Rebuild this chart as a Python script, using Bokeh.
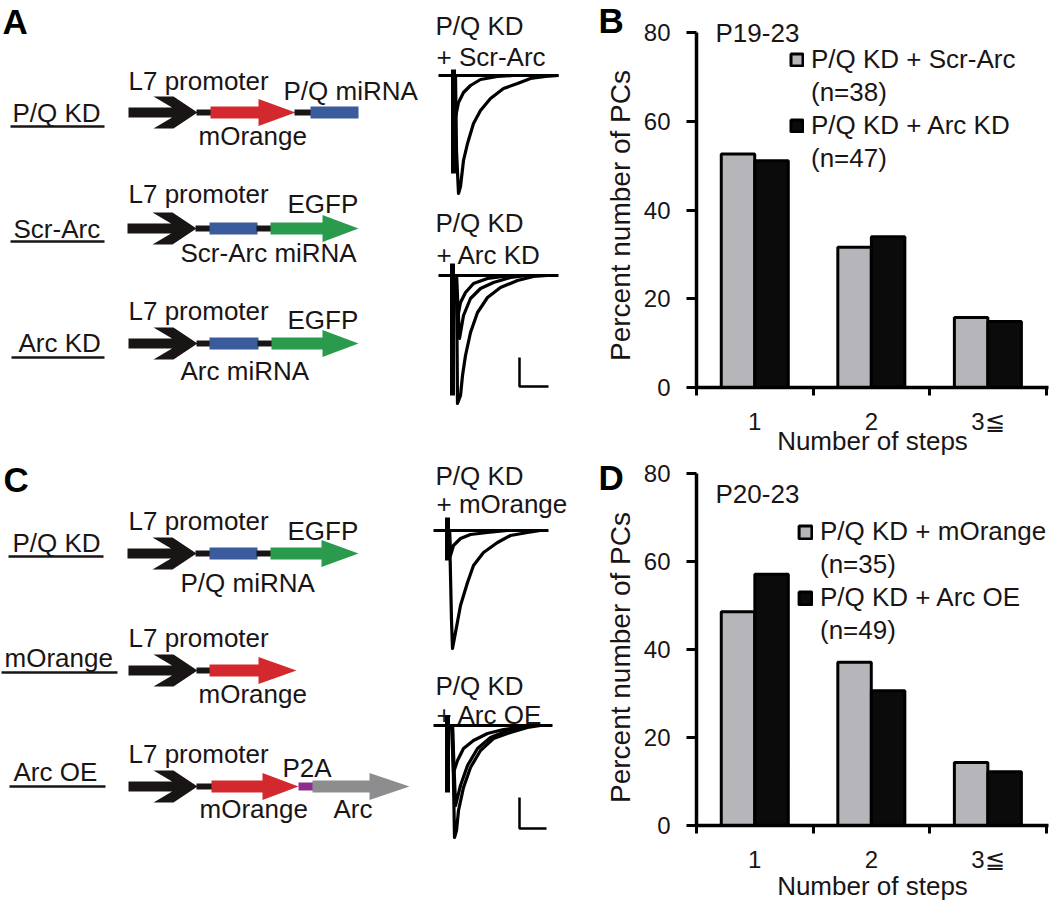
import math
from bokeh.plotting import figure
from bokeh.layouts import row, column
from bokeh.models import Range1d, FixedTicker, Label, Legend, LegendItem, Title
from bokeh.core.properties import value
from bokeh.embed import file_html
from bokeh.resources import INLINE

FONT = "Liberation Sans"
INK = "#1a1515"

# ---------------- bar chart data ----------------
steps = ["1", "2", "3\u2266"]
b_scr_arc = [52.6, 31.6, 15.8]      # P/Q KD + Scr-Arc (n=38)
b_arc_kd = [51.1, 34.0, 14.9]       # P/Q KD + Arc KD (n=47)
d_morange = [48.6, 37.1, 14.3]      # P/Q KD + mOrange (n=35)
d_arc_oe = [57.1, 30.6, 12.2]       # P/Q KD + Arc OE (n=49)
b_labels = ["P/Q KD + Scr-Arc", "(n=38)", "P/Q KD + Arc KD", "(n=47)"]
d_labels = ["P/Q KD + mOrange", "(n=35)", "P/Q KD + Arc OE", "(n=49)"]
y_ticks = [0, 20, 40, 60, 80]
y_title = "Percent number of PCs"
x_title = "Number of steps"

# ---------------- EPSC traces (canvas px) ----------------
a1_base_x = [438, 558]; a1_base_y = [75, 75]
a1_art_x = [453, 453]; a1_art_y = [69, 173]
a1_mid_x = [454, 455, 458, 463, 470, 480, 497, 513, 525]
a1_mid_y = [75, 117, 102, 92, 85, 79, 76, 75, 75]
a1_big_x = [455, 456, 458, 460, 463, 467, 473, 480, 490, 503, 517, 530, 545, 558]
a1_big_y = [75, 150, 193, 186, 160, 143, 123, 110, 98, 88, 83, 78, 76, 75]

a2_base_x = [438, 558]; a2_base_y = [275, 275]
a2_art_x = [452, 452]; a2_art_y = [263, 395]
a2_in_x = [455, 457, 460, 465, 473, 487, 503, 517]
a2_in_y = [275, 318, 302, 292, 283, 278, 276, 275]
a2_mid_x = [456, 459, 463, 470, 480, 493, 510, 527]
a2_mid_y = [275, 338, 315, 298, 288, 282, 277, 275]
a2_big_x = [456, 457, 460, 462, 465, 470, 477, 487, 500, 517, 533, 547]
a2_big_y = [275, 403, 395, 375, 355, 332, 312, 297, 287, 280, 276, 275]

c1_base_x = [433, 548]; c1_base_y = [530, 530]
c1_art_x = [447, 447]; c1_art_y = [517, 560]
c1_sm_x = [449, 450, 453, 460, 470, 487, 507]
c1_sm_y = [530, 555, 545, 538, 534, 532, 530]
c1_big_x = [449, 451, 452, 455, 460, 467, 473, 483, 497, 510, 527, 540]
c1_big_y = [530, 620, 648, 632, 605, 582, 565, 552, 542, 535, 532, 530]

c2_base_x = [433, 552]; c2_base_y = [725, 725]
c2_art_x = [447, 447]; c2_art_y = [715, 792]
c2_in_x = [451, 453, 457, 463, 473, 487, 503, 520, 530]
c2_in_y = [725, 772, 760, 748, 740, 733, 729, 727, 725]
c2_mid_x = [452, 455, 460, 467, 477, 490, 507, 525]
c2_mid_y = [725, 805, 785, 765, 748, 737, 730, 726]
c2_big_x = [452, 454, 456, 458, 463, 470, 480, 493, 510, 527, 540]
c2_big_y = [725, 837, 830, 810, 787, 767, 750, 738, 732, 727, 725]

# ---------------- left canvas: constructs + traces + panel letters ----------------
LW, TOTAL_H = 640, 903
L = figure(width=LW, height=TOTAL_H, x_range=Range1d(0, LW), y_range=Range1d(TOTAL_H, 0),
           x_axis_location=None, y_axis_location=None, min_border=0, title=None,
           toolbar_location=None, output_backend="svg", outline_line_color=None)
L.grid.visible = False

RED = "#d3282e"; BLUE = "#3a5b9c"; GREEN = "#2a9a4c"; PURPLE = "#8e2d8c"; GREY = "#8d8d90"

pxs, pys, pcs = [], [], []

def add_poly(xs, ys, c):
    pxs.append(xs); pys.append(ys); pcs.append(c)

def chevron(x0, yc):
    dx = [0, 43.6, 25, 45, 69, 45, 25, 43.6, 0]
    dy = [-5, -5, -16, -16, 0, 16, 16, 5, 5]
    add_poly([x0 + a for a in dx], [yc + b for b in dy], INK)
    return x0 + 69

def rect(x0, x1, yc, h, c):
    add_poly([x0, x1, x1, x0], [yc - h, yc - h, yc + h, yc + h], c)

def block_arrow(x0, xh, x1, yc, c, sh=6, hh=13.5):
    add_poly([x0, xh, xh, x1, xh, xh, x0], [yc - sh, yc - sh, yc - hh, yc, yc + hh, yc + sh, yc + sh], c)

# A row 1: P/Q KD
t = chevron(128, 112); rect(t - 1, 211, 112, 3, INK); block_arrow(210, 258, 295, 112, RED)
rect(294, 311, 112, 3, INK); rect(310, 358, 112, 6, BLUE)
# A row 2: Scr-Arc
t = chevron(127, 228); rect(t - 1, 210, 228, 3, INK); rect(209, 257, 228, 6, BLUE)
rect(256, 271, 228, 3, INK); block_arrow(270, 322, 358, 228, GREEN)
# A row 3: Arc KD
t = chevron(128, 343); rect(t - 1, 210, 343, 3, INK); rect(209, 258, 343, 6, BLUE)
rect(257, 272, 343, 3, INK); block_arrow(271, 322, 358, 343, GREEN)
# C row 1: P/Q KD
t = chevron(127, 553); rect(t - 1, 210, 553, 3, INK); rect(209, 257, 553, 6, BLUE)
rect(256, 271, 553, 3, INK); block_arrow(270, 321, 358, 553, GREEN)
# C row 2: mOrange
t = chevron(128, 670); rect(t - 1, 210, 670, 3, INK); block_arrow(209, 258, 296, 670, RED)
# C row 3: Arc OE
t = chevron(128, 786); rect(t - 1, 212, 786, 3, INK); block_arrow(211, 262, 298, 786, RED)
rect(298, 313, 786, 4, PURPLE); block_arrow(312, 369, 409, 786, GREY)

L.patches(pxs, pys, fill_color=pcs, line_color=None)

# underlines for construct names
ul_x = [[10, 104], [10, 104], [11, 104], [8, 103], [1, 117], [9, 105]]
ul_y = [[126, 126], [241, 241], [357, 357], [556, 556], [672, 672], [786, 786]]
L.multi_line(ul_x, ul_y, line_color=INK, line_width=2.5)

txt = [
    (12, 112, "P/Q KD"), (128, 80, "L7 promoter"), (283, 90, "P/Q miRNA"), (198, 135, "mOrange"),
    (13, 228, "Scr-Arc"), (128, 193, "L7 promoter"), (287, 203, "EGFP"), (180, 252, "Scr-Arc miRNA"),
    (18, 342, "Arc KD"), (128, 310, "L7 promoter"), (287, 319, "EGFP"), (180, 370, "Arc miRNA"),
    (12, 542, "P/Q KD"), (128, 520, "L7 promoter"), (287, 530, "EGFP"), (180, 582, "P/Q miRNA"),
    (4, 657, "mOrange"), (128, 637, "L7 promoter"), (198, 693, "mOrange"),
    (13, 771, "Arc OE"), (128, 753, "L7 promoter"), (282, 767, "P2A"), (199, 808, "mOrange"), (333, 808, "Arc"),
    (435, 25, "P/Q KD"), (436, 56, "+ Scr-Arc"), (435, 222, "P/Q KD"), (436, 254, "+ Arc KD"),
    (435, 475, "P/Q KD"), (436, 503, "+ mOrange"), (435, 685, "P/Q KD"), (436, 714, "+ Arc OE"),
]
L.text([a[0] for a in txt], [a[1] for a in txt], [a[2] for a in txt],
       text_font=value(FONT), text_font_size="26px", text_align="left",
       text_baseline="middle", text_color=INK)
# panel letters
L.text([2, 3, 598, 598], [1, 459, 0, 457], ["A", "C", "B", "D"], text_font=value(FONT),
       text_font_size="35px", text_font_style="bold", text_align="left",
       text_baseline="top", text_color="black")
# y-axis titles of panels B and D (sit left of the chart figures)
L.text([620, 620], [215, 657], [y_title, y_title], angle=math.pi / 2,
       text_font=value(FONT), text_font_size="28px", text_align="center",
       text_baseline="middle", text_color=INK)

# scale bars
L.multi_line([[519, 519, 548], [519, 519, 546]], [[357, 386, 386], [797, 828, 828]],
             line_color="black", line_width=2.5)

# traces
L.multi_line([a1_base_x, a2_base_x, c1_base_x, c2_base_x],
             [a1_base_y, a2_base_y, c1_base_y, c2_base_y], line_color="black", line_width=3)
L.multi_line([a1_art_x, a2_art_x, c1_art_x, c2_art_x],
             [a1_art_y, a2_art_y, c1_art_y, c2_art_y], line_color="black", line_width=5)
L.multi_line([a1_mid_x, a1_big_x, a2_in_x, a2_mid_x, a2_big_x, c1_sm_x, c1_big_x, c2_in_x, c2_mid_x, c2_big_x],
             [a1_mid_y, a1_big_y, a2_in_y, a2_mid_y, a2_big_y, c1_sm_y, c1_big_y, c2_in_y, c2_mid_y, c2_big_y],
             line_color="black", line_width=3.2, line_join="round")


# ---------------- bar charts ----------------
RW = 1050 - LW

def bar_chart(height, top, bottom, gray_vals, black_vals, labels, age, leg_loc, sq, tick_standoff, xlab_standoff):
    p = figure(width=RW, height=height, x_range=Range1d(0, 3.02), y_range=Range1d(0, 80),
               min_border_left=56, min_border_right=2, min_border_top=top, min_border_bottom=bottom,
               title=None, toolbar_location=None, output_backend="svg", outline_line_color=None)
    p.grid.visible = False
    centers = [i + 0.5 for i in range(len(steps))]
    off = 0.144
    r_g = p.vbar(x=[c - off for c in centers], top=gray_vals, width=0.287, bottom=0,
                 fill_color="#b6b6ba", line_color="black", line_width=3)
    r_k = p.vbar(x=[c + off for c in centers], top=black_vals, width=0.287, bottom=0,
                 fill_color="#0b0b0b", line_color="black", line_width=3)
    dummy = p.scatter(x=[], y=[], fill_alpha=0, line_alpha=0)

    xa = p.xaxis[0]
    xa.ticker = FixedTicker(ticks=centers, minor_ticks=[0, 1, 2, 3])
    xa.major_label_overrides = {c: s for c, s in zip(centers, steps)}
    xa.major_tick_out = 0
    xa.major_tick_in = 0
    xa.minor_tick_out = 8
    xa.minor_tick_in = 0
    xa.minor_tick_line_width = 3
    xa.minor_tick_line_color = "black"
    xa.major_label_standoff = tick_standoff
    xa.axis_label = x_title
    xa.axis_label_standoff = xlab_standoff
    xa.axis_label_text_font_size = "26px"

    ya = p.yaxis[0]
    ya.ticker = FixedTicker(ticks=y_ticks)
    ya.major_tick_out = 10
    ya.major_tick_in = 0
    ya.major_tick_line_width = 3
    ya.minor_tick_line_color = None
    ya.major_label_standoff = 16

    for ax in (xa, ya):
        ax.axis_line_width = 3.5
        ax.axis_line_color = "black"
        ax.major_tick_line_color = "black" if ax is ya else None
        ax.major_label_text_font = FONT
        ax.major_label_text_font_size = "24px"
        ax.major_label_text_color = INK
        ax.axis_label_text_font = FONT
        ax.axis_label_text_font_style = "normal"
        ax.axis_label_text_color = INK

    legend = Legend(items=[LegendItem(label=labels[0], renderers=[r_g]),
                           LegendItem(label=labels[1], renderers=[dummy]),
                           LegendItem(label=labels[2], renderers=[r_k]),
                           LegendItem(label=labels[3], renderers=[dummy])],
                    location=leg_loc, glyph_width=sq, glyph_height=sq, label_standoff=7,
                    label_height=30, spacing=2, padding=0, margin=0,
                    border_line_color=None, background_fill_alpha=0,
                    label_text_font=FONT, label_text_font_size="26px", label_text_color=INK)
    p.add_layout(legend, "center")
    if age[2] == "title":
        p.add_layout(Title(text=age[0], align="left", offset=19, vertical_align="bottom",
                           standoff=-31, text_font=FONT, text_font_size="26px",
                           text_font_style="normal", text_color=INK), "above")
    else:
        p.add_layout(Label(x=19, y=age[1], x_units="screen", y_units="screen", text=age[0],
                           text_font=FONT, text_font_size="26px", text_baseline="middle",
                           text_color=INK))
    return p

B = bar_chart(458, 32, 71, b_scr_arc, b_arc_kd, b_labels, ("P19-23", 0, "title"), (93, 213), 15, 12, -12)
D = bar_chart(445, 15, 76, d_morange, d_arc_oe, d_labels, ("P20-23", 332, "label"), (101, 179), 16, 12, -5)

layout = row(L, column(B, D, spacing=0), spacing=0)
open("out.html", "w").write(file_html(layout, INLINE))
